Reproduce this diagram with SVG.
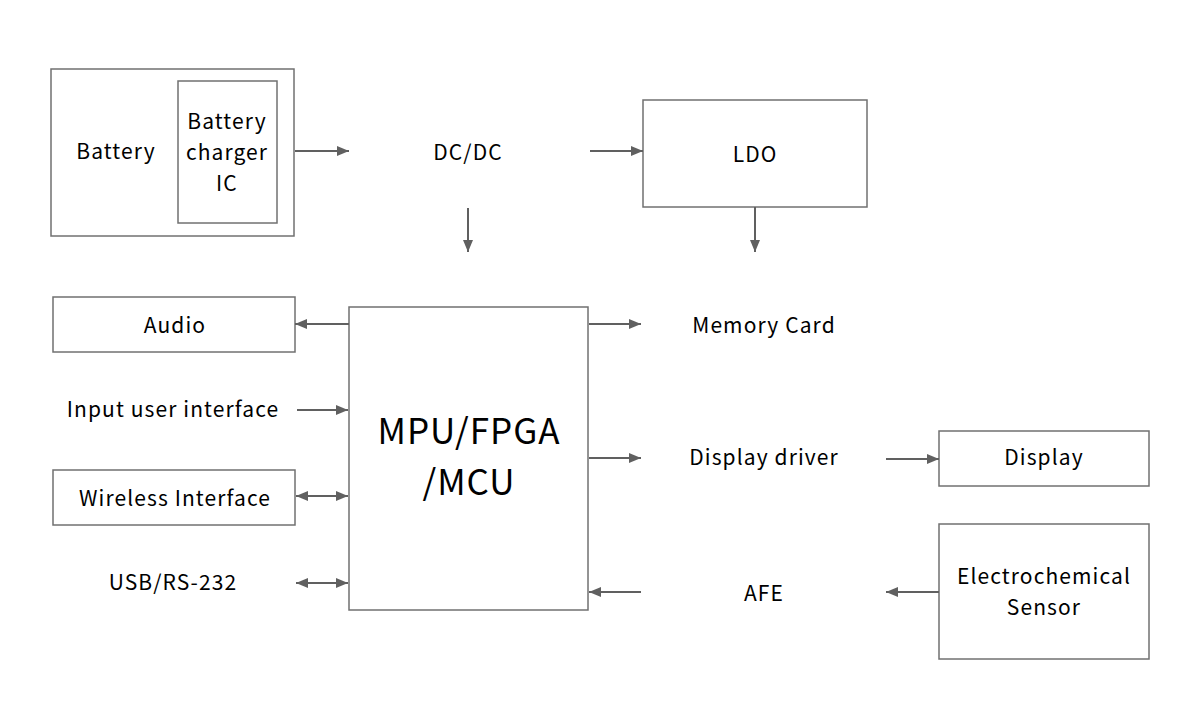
<svg xmlns="http://www.w3.org/2000/svg" width="1200" height="727" viewBox="0 0 1200 727">
<defs>
<marker id="ah" viewBox="0 0 12 10" refX="12" refY="5" markerWidth="12" markerHeight="10" markerUnits="userSpaceOnUse" orient="auto-start-reverse">
<path d="M0,0 L12,5 L0,10 Z" fill="#606060"/>
</marker>
<style>
.box{fill:#fff;stroke:#707070;stroke-width:1.5}
.t{font-family:"Noto Sans CJK SC","Noto Sans",sans-serif;font-size:21px;font-weight:400;fill:#000;text-anchor:middle;letter-spacing:1.1px}
.big{font-size:35px;letter-spacing:1px}
.c{stroke:#606060;stroke-width:2;fill:none;marker-end:url(#ah)}
.d{marker-start:url(#ah)}
</style>
</defs>
<rect width="1200" height="727" fill="#fff"/>
<g id="battery">
<rect class="box" x="51" y="69" width="243" height="167"/>
<text class="t" x="116" y="159">Battery</text>
</g>
<g id="charger">
<rect class="box" x="178" y="81" width="99" height="142"/>
<text class="t" x="227" y="129">Battery</text>
<text class="t" x="227" y="160">charger</text>
<text class="t" x="227" y="191">IC</text>
</g>
<g id="dcdc"><text class="t" x="468" y="160">DC/DC</text></g>
<g id="ldo">
<rect class="box" x="643" y="100" width="224" height="107"/>
<text class="t" x="755" y="162">LDO</text>
</g>
<g id="audio">
<rect class="box" x="53" y="297" width="242" height="55"/>
<text class="t" x="175" y="333">Audio</text>
</g>
<g id="input"><text class="t" x="173" y="417">Input user interface</text></g>
<g id="wireless">
<rect class="box" x="53" y="470" width="242" height="55"/>
<text class="t" x="175" y="506">Wireless Interface</text>
</g>
<g id="usb"><text class="t" x="173" y="590">USB/RS-232</text></g>
<g id="mpu">
<rect class="box" x="349" y="307" width="239" height="303"/>
<text class="t big" x="469" y="444">MPU/FPGA</text>
<text class="t big" x="469" y="495">/MCU</text>
</g>
<g id="memory"><text class="t" x="764" y="333">Memory Card</text></g>
<g id="displaydriver"><text class="t" x="764" y="465">Display driver</text></g>
<g id="display">
<rect class="box" x="939" y="431" width="210" height="55"/>
<text class="t" x="1044" y="465">Display</text>
</g>
<g id="afe"><text class="t" x="764" y="601">AFE</text></g>
<g id="sensor">
<rect class="box" x="939" y="524" width="210" height="135"/>
<text class="t" x="1044" y="584">Electrochemical</text>
<text class="t" x="1044" y="615">Sensor</text>
</g>
<g id="connectors">
<line class="c" x1="295" y1="151" x2="349" y2="151"/>
<line class="c" x1="590" y1="151" x2="643" y2="151"/>
<line class="c" x1="468" y1="208" x2="468" y2="252"/>
<line class="c" x1="755" y1="207" x2="755" y2="252"/>
<line class="c" x1="349" y1="324" x2="295" y2="324"/>
<line class="c" x1="297" y1="410" x2="348" y2="410"/>
<line class="c d" x1="296" y1="496" x2="348" y2="496"/>
<line class="c d" x1="296" y1="583" x2="348" y2="583"/>
<line class="c" x1="589" y1="324" x2="641" y2="324"/>
<line class="c" x1="589" y1="458" x2="641" y2="458"/>
<line class="c" x1="886" y1="459" x2="939" y2="459"/>
<line class="c" x1="641" y1="592" x2="589" y2="592"/>
<line class="c" x1="939" y1="592" x2="886" y2="592"/>
</g>
</svg>
